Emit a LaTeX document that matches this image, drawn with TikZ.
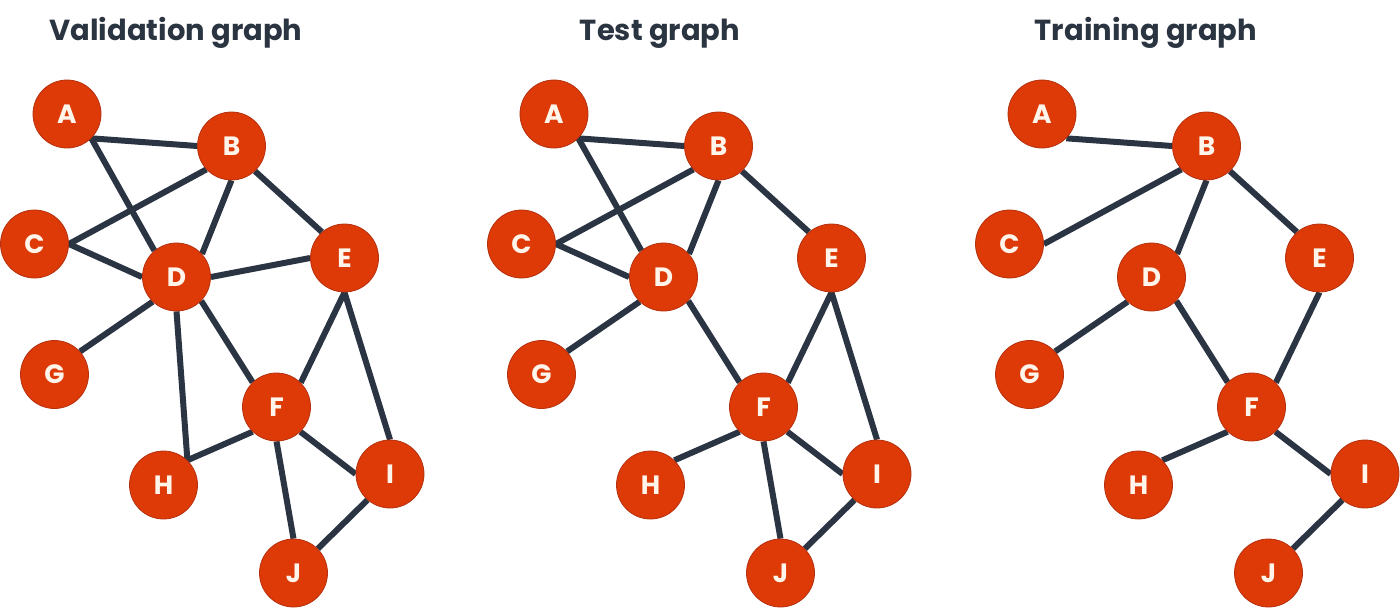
\documentclass[tikz,border=0pt]{standalone}
\usepackage{fontspec}
\setmainfont{Poppins}
\usetikzlibrary{backgrounds}
\definecolor{nodefill}{HTML}{DD3A08}
\definecolor{nodeline}{HTML}{B5300E}
\definecolor{edgecol}{HTML}{2A3443}
\definecolor{lettercol}{HTML}{FFF5EB}
\definecolor{titlecol}{HTML}{2B3441}
\tikzset{
  gnode/.style={circle, fill=nodefill, draw=nodeline, line width=0.8pt,
    minimum size=68pt, inner sep=0pt, text=lettercol,
    font=\fontsize{26.5}{26.5}\selectfont\bfseries},
  gedge/.style={draw=edgecol, line width=6pt},
  gtitle/.style={anchor=base, text=titlecol, inner sep=0pt,
    font=\fontsize{29}{29}\selectfont\bfseries}
}
\newcommand\graphnodes[2]{%
  \foreach \n/\px/\py in {A/67/114, B/231.5/146, C/34.5/244, D/176.5/277, E/344.5/258,
      G/54.5/374.5, F/276.5/407, H/163.5/485, I/390/474, J/293.5/573}
    \node[gnode] (#1\n) at (\px+#2,\py) {\n};
}
\begin{document}
\begin{tikzpicture}[x=1pt,y=-1pt]
\useasboundingbox (0,0) rectangle (1400,608);
\node[gtitle] (t1) at (176,40) {Validation graph};
\node[gtitle] (t2) at (660,40) {Test graph};
\node[gtitle] (t3) at (1146,40) {Training graph};
\graphnodes{v}{0}
\graphnodes{t}{487}
\graphnodes{r}{975}
\begin{pgfonlayer}{background}
  % validation
  \draw[gedge] (vA.-45) -- (vB.180);
  \draw[gedge] (vA.-45) -- (vD.130);
  \draw[gedge] (vB.223) -- (vC.0);
  \draw[gedge] (vC.0) -- (vD.180);
  \draw[gedge] (vB.-90) -- (vD.42);
  \draw[gedge] (vB.-47) -- (vE.131);
  \draw[gedge] (vD.0) -- (vE.180);
  \draw[gedge] (vD.226) -- (vG.42);
  \draw[gedge] (vD.-90) -- (vH.46);
  \draw[gedge] (vD.-44) -- (vF.134);
  \draw[gedge] (vE.-90) -- (vF.45);
  \draw[gedge] (vE.-90) -- (vI.90);
  \draw[gedge] (vF.226) -- (vH.46);
  \draw[gedge] (vF.-46) -- (vI.180);
  \draw[gedge] (vF.-90) -- (vJ.90);
  \draw[gedge] (vI.229) -- (vJ.45);
  % test
  \draw[gedge] (tA.-45) -- (tB.180);
  \draw[gedge] (tA.-45) -- (tD.130);
  \draw[gedge] (tB.223) -- (tC.0);
  \draw[gedge] (tC.0) -- (tD.180);
  \draw[gedge] (tB.-90) -- (tD.42);
  \draw[gedge] (tB.-47) -- (tE.131);
  \draw[gedge] (tD.226) -- (tG.42);
  \draw[gedge] (tD.-44) -- (tF.134);
  \draw[gedge] (tE.-90) -- (tF.45);
  \draw[gedge] (tE.-90) -- (tI.90);
  \draw[gedge] (tF.226) -- (tH.46);
  \draw[gedge] (tF.-46) -- (tI.180);
  \draw[gedge] (tF.-90) -- (tJ.90);
  \draw[gedge] (tI.229) -- (tJ.45);
  % training
  \draw[gedge] (rA.-45) -- (rB.180);
  \draw[gedge] (rB.223) -- (rC.0);
  \draw[gedge] (rB.-90) -- (rD.42);
  \draw[gedge] (rB.-47) -- (rE.131);
  \draw[gedge] (rD.226) -- (rG.42);
  \draw[gedge] (rD.-44) -- (rF.134);
  \draw[gedge] (rE.-90) -- (rF.45);
  \draw[gedge] (rF.226) -- (rH.46);
  \draw[gedge] (rF.-46) -- (rI.180);
  \draw[gedge] (rI.229) -- (rJ.45);
\end{pgfonlayer}
\end{tikzpicture}
\end{document}
